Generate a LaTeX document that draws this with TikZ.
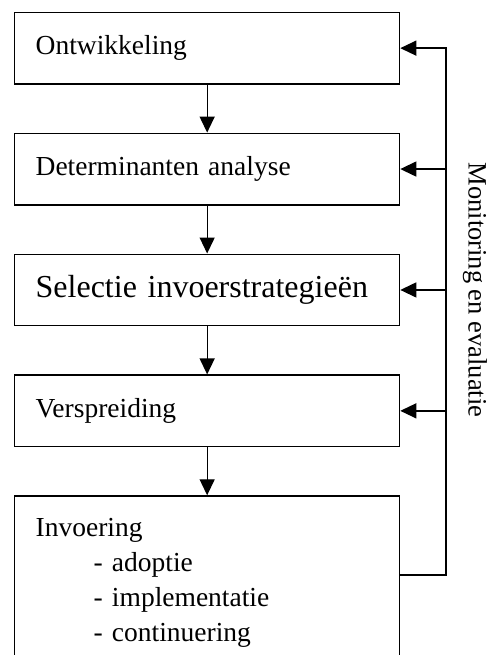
\documentclass[tikz,border=0pt]{standalone}
\usepackage{fontspec}
\setmainfont{Liberation Serif}
\usetikzlibrary{arrows.meta, positioning}

\begin{document}
\begin{tikzpicture}[
    x=1pt, y=1pt,
    fase/.style={draw, line width=1.3pt, minimum height=71.6pt, text width=343pt, inner xsep=21pt, inner ysep=0pt, align=left, font=\fontsize{27.5}{35}\selectfont},
    pijl/.style={-{Triangle[length=16pt, width=15pt]}, line width=1.3pt}
]
    \useasboundingbox (0,0) rectangle (491,-655);
    \clip (0,0) rectangle (491,-655);

    \node[fase, anchor=north west] (ontw) at (14,-11.7) {Ontwikkeling};
    \node[fase, below=48pt of ontw] (det) {Determinanten analyse};
    \node[fase, below=48pt of det, font=\fontsize{32}{38}\selectfont] (sel) {Selectie invoerstrategieën};
    \node[fase, below=48pt of sel] (versp) {Verspreiding};
    \node[fase, below=48pt of versp, inner ysep=22.5pt] (invoer) {Invoering\\
        \hspace*{58pt}- adoptie\\
        \hspace*{58pt}- implementatie\\
        \hspace*{58pt}- continuering};

    \draw[pijl] (ontw.south) -- (det.north);
    \draw[pijl] (det.south) -- (sel.north);
    \draw[pijl] (sel.south) -- (versp.north);
    \draw[pijl] (versp.south) -- (invoer.north);

    % terugkoppeling
    \coordinate (terug) at (446,-575);
    \coordinate (rechts) at (475,0);
    \draw[pijl] (invoer.east |- terug) -- (terug) |- (ontw.east);
    \draw[pijl] (terug |- det.east) -- (det.east);
    \draw[pijl] (terug |- sel.east) -- (sel.east);
    \draw[pijl] (terug |- versp.east) -- (versp.east);

    \node[rotate=-90, inner sep=0pt, font=\fontsize{26.5}{35}\selectfont] (mon) at (sel.east -| rechts) {Monitoring en evaluatie};
\end{tikzpicture}
\end{document}
